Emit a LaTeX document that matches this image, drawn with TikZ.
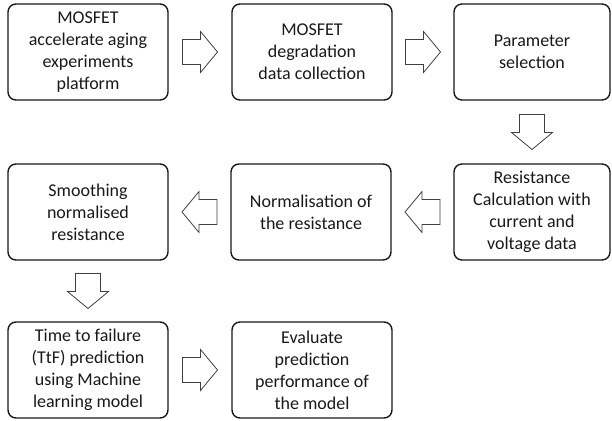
\documentclass[tikz,border=0pt]{standalone}
\usepackage{fontspec}
\setmainfont{Carlito}
\usetikzlibrary{calc}

\tikzset{
  stagebox/.style={draw=black!90, line width=1.4pt, rounded corners=8pt,
    minimum width=160pt, minimum height=96pt, align=center, text=black!90,
    font=\fontsize{18}{22}\selectfont},
  arrowline/.style={draw=black!75, line width=0.8pt, fill=white},
  blockarr/.pic={\draw[arrowline] (-17.5,-12.5) -- (0.5,-12.5) -- (0.5,-20.5) -- (17.5,0)
      -- (0.5,20.5) -- (0.5,12.5) -- (-17.5,12.5) -- cycle;}
}

\begin{document}
\begin{tikzpicture}[x=1pt, y=-1pt]
  \useasboundingbox (0,0) rectangle (612,420);
  % first row
  \node[stagebox] (platform) at (88,52) {MOSFET\\accelerate aging\\experiments\\platform};
  \node[stagebox] (collection) at (312,52) {MOSFET\\degradation\\data collection};
  \node[stagebox, minimum width=156pt] (selection) at (532,52) {Parameter\\selection};
  % second row
  \node[stagebox, minimum width=156pt] (resistance) at (532,212) {Resistance\\Calculation with\\current and\\voltage data};
  \node[stagebox] (normalise) at (311,212) {Normalisation of\\the resistance};
  \node[stagebox] (smoothing) at (88,212) {Smoothing\\normalised\\resistance};
  % third row
  \node[stagebox] (ttf) at (88,370) {Time to failure\\(TtF) prediction\\using Machine\\learning model};
  \node[stagebox] (evaluate) at (312,370) {Evaluate\\prediction\\performance of\\the model};

  % block arrows between the stages
  \pic at ($(platform.east)!0.5!(collection.west)$) {blockarr};
  \pic at ($(collection.east)!0.5!(selection.west)$) {blockarr};
  \pic[rotate=-90] at ($(selection.south)!0.5!(resistance.north)$) {blockarr};
  \pic[rotate=180] at ($(resistance.west)!0.5!(normalise.east)$) {blockarr};
  \pic[rotate=180] at ($(normalise.west)!0.5!(smoothing.east)$) {blockarr};
  \pic[rotate=-90] at ($(smoothing.south)!0.5!(ttf.north)$) {blockarr};
  \pic at ($(ttf.east)!0.5!(evaluate.west)$) {blockarr};
\end{tikzpicture}
\end{document}
